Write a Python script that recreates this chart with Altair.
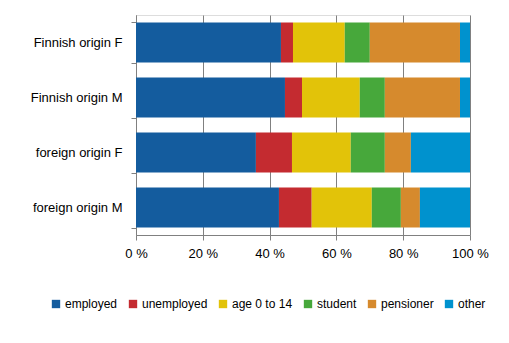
import altair as alt
import pandas as pd

groups = ["Finnish origin F", "Finnish origin M", "foreign origin F", "foreign origin M"]
categories = ["employed", "unemployed", "age 0 to 14", "student", "pensioner", "other"]
colors = ["#145C9E", "#C42B30", "#E2C309", "#47A83B", "#D68A2D", "#0092CE"]

employed = [43.4, 44.6, 35.9, 42.8]
unemployed = [3.6, 5.1, 10.8, 9.8]
age0to14 = [15.5, 17.3, 17.6, 18.0]
student = [7.5, 7.5, 10.2, 8.7]
pensioner = [27.0, 22.5, 7.8, 5.7]
other = [3.0, 3.0, 17.7, 15.0]

series = [employed, unemployed, age0to14, student, pensioner, other]
rows = []
for ci, (cat, vals) in enumerate(zip(categories, series)):
    for g, v in zip(groups, vals):
        rows.append({"group": g, "category": cat, "value": v, "order": ci})
df = pd.DataFrame(rows)

font = "Liberation Sans"

chart = alt.Chart(df).mark_bar(size=40).encode(
    y=alt.Y("group:N", sort=groups, title=None,
            scale=alt.Scale(paddingInner=0.27, paddingOuter=0.135),
            axis=alt.Axis(tickBand="extent", tickSize=5, tickColor="#808080",
                          domainColor="#808080", labelFontSize=13, labelColor="#000000",
                          labelFont=font, labelPadding=9, grid=False)),
    x=alt.X("value:Q", stack="normalize", title=None,
            scale=alt.Scale(domain=[0, 1], nice=False),
            axis=alt.Axis(values=[0, 0.2, 0.4, 0.6, 0.8, 1.0],
                          labelExpr="round(datum.value*100) + ' %'",
                          labelFlush=False, labelOverlap=False,
                          grid=True, gridColor="#808080", gridWidth=1,
                          tickSize=5, tickColor="#808080", domainColor="#808080",
                          labelFontSize=13, labelColor="#000000", labelFont=font,
                          labelPadding=7)),
    color=alt.Color("category:N", sort=categories,
                    scale=alt.Scale(domain=categories, range=colors),
                    legend=alt.Legend(orient="none", direction="horizontal",
                                      legendX=-86, legendY=283, title=None,
                                      symbolType="square", symbolSize=70,
                                      symbolStrokeWidth=0, symbolOpacity=1,
                                      labelFontSize=12, labelFont=font,
                                      labelColor="#000000", columnPadding=9,
                                      labelOffset=3)),
    order=alt.Order("order:Q", sort="ascending"),
).properties(
    width=334, height=220,
    autosize=alt.AutoSizeParams(type="none"),
    padding={"left": 136, "top": 15, "right": 39, "bottom": 108},
).configure_view(stroke=None).configure(background="#ffffff")

chart.save("out.html", embed_options={"renderer": "svg", "actions": False})
